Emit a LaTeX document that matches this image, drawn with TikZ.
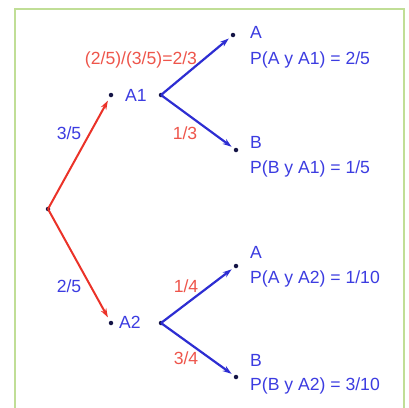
\documentclass[tikz,border=0pt]{standalone}
\usepackage{fontspec}
\setmainfont{Liberation Sans}
\usetikzlibrary{arrows.meta}
\definecolor{frameg}{RGB}{192,222,150}
\definecolor{lred}{RGB}{235,50,40}
\definecolor{lblue}{RGB}{45,45,210}
\definecolor{tblue}{RGB}{60,60,225}
\definecolor{tred}{RGB}{238,85,75}
\definecolor{dotc}{RGB}{20,20,70}
\begin{document}
\begin{tikzpicture}[x=1pt,y=-1pt,
  every node/.style={font=\fontsize{17.6}{20}\selectfont, inner sep=0pt},
  pt/.style={circle,fill=dotc,minimum size=4.5pt,inner sep=0pt},
  redarr/.style={draw=lred,line width=2pt,-{Stealth[length=9pt,width=6pt]},shorten >=4pt},
  bluearr/.style={draw=lblue,line width=2.2pt,-{Stealth[length=9pt,width=6pt]},shorten >=3pt},
  bt/.style={text=tblue},
  rt/.style={text=tred}]
\useasboundingbox (0,0) rectangle (409,407);
\fill[white] (0,0) rectangle (409,407);
\draw[frameg,line width=2pt] (15,410) -- (15,8.5) -- (404,8.5) -- (404,410);
% points
\node[pt] (r) at (48,209) {};
\node[pt] (a1) at (111,95) {};
\node[pt] (a1s) at (161,95) {};
\node[pt] (a2) at (111,323) {};
\node[pt] (a2s) at (161,323) {};
\node[pt] (aa1) at (233,35) {};
\node[pt] (ba1) at (236,150) {};
\node[pt] (aa2) at (236,266) {};
\node[pt] (ba2) at (236,377) {};
% connectors
\draw[redarr] (r.center) -- (a1);
\draw[redarr] (r.center) -- (a2);
\draw[bluearr] (a1s.center) -- (aa1);
\draw[bluearr] (a1s.center) -- (ba1);
\draw[bluearr] (a2s.center) -- (aa2);
\draw[bluearr] (a2s.center) -- (ba2);
% labels
\node[bt,anchor=west] (la1) at (125,95) {A1};
\node[bt,anchor=west] (la2) at (119,322) {A2};
\node[bt] (l35) at (69,133) {3/5};
\node[bt] (l25) at (69,286) {2/5};
\node[rt] (lq) at (141,60) {(2/5)/(3/5)=2/3};
\node[rt] (l13) at (185,133) {1/3};
\node[rt] (l14) at (186,286) {1/4};
\node[rt] (l34) at (186,358) {3/4};
\node[bt,anchor=west] (ta1) at (250,32) {A};
\node[bt,anchor=west] (pa1) at (250,60) {P(A y A1) = 2/5};
\node[bt,anchor=west] (tb1) at (250,142) {B};
\node[bt,anchor=west] (pb1) at (250,169) {P(B y A1) = 1/5};
\node[bt,anchor=west] (ta2) at (250,252) {A};
\node[bt,anchor=west] (pa2) at (250,279) {P(A y A2) = 1/10};
\node[bt,anchor=west] (tb2) at (250,360) {B};
\node[bt,anchor=west] (pb2) at (250,386) {P(B y A2) = 3/10};
\end{tikzpicture}
\end{document}
